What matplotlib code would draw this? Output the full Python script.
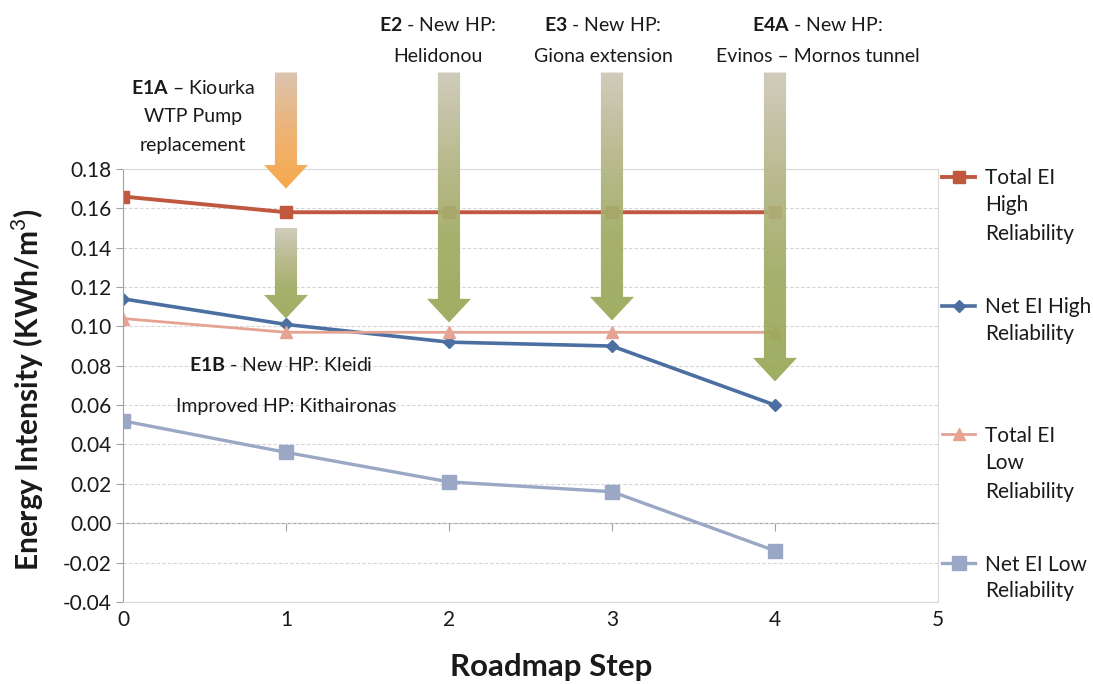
import numpy as np
import matplotlib
matplotlib.use('Agg')
import matplotlib.pyplot as plt
from matplotlib.colors import LinearSegmentedColormap
from matplotlib.patches import Polygon
from matplotlib.ticker import FormatStrFormatter, MultipleLocator

plt.rcParams['font.family'] = ['Lato', 'DejaVu Sans']
plt.rcParams['mathtext.fontset'] = 'custom'
plt.rcParams['mathtext.rm'] = 'Lato'
plt.rcParams['mathtext.bf'] = 'Lato:bold'
plt.rcParams['axes.unicode_minus'] = False

# data
steps = [0, 1, 2, 3, 4]
total_high = [0.166, 0.158, 0.158, 0.158, 0.158]
net_high = [0.114, 0.101, 0.092, 0.090, 0.060]
total_low = [0.104, 0.097, 0.097, 0.097, 0.097]
net_low = [0.052, 0.036, 0.021, 0.016, -0.014]

series_names = ['Total EI', 'Net EI High', 'Total EI', 'Net EI Low']
series_rest = ['High\nReliability', 'Reliability', 'Low\nReliability', 'Reliability']

# measure arrows: step, top value, tip value
arrow_step = [1, 1, 2, 3, 4]
arrow_top = [0.229, 0.150, 0.229, 0.229, 0.229]
arrow_tip = [0.170, 0.104, 0.102, 0.103, 0.072]
arrow_kind = ['orange', 'olive', 'olive', 'olive', 'olive']

TXT = '#1a1a1a'

fig = plt.figure(figsize=(10.93, 6.84), dpi=100)
ax = fig.add_axes([0.1125, 0.12, 0.7457, 0.633])

l1, = ax.plot(steps, total_high, color='#C0583F', lw=2.8, marker='s', ms=8.5, zorder=2)
l2, = ax.plot(steps, net_high, color='#4A6FA0', lw=2.6, marker='D', ms=6.5, zorder=2)
l3, = ax.plot(steps, total_low, color='#E4A393', lw=2.0, marker='^', ms=9, zorder=2)
l4, = ax.plot(steps, net_low, color='#9AA8C6', lw=2.4, marker='s', ms=10, zorder=2)

# gradient arrows
cmaps = {
    'olive': LinearSegmentedColormap.from_list('olive', ['#CDC8B8', '#B5B688', '#A0AB62', '#99A857']),
    'orange': LinearSegmentedColormap.from_list('orange', ['#D9C0AA', '#EDAE6C', '#F8A23E']),
}
sw, hw, hl = 0.068, 0.135, 0.012
grad = np.linspace(0, 1, 256).reshape(-1, 1)
for x, top, tip, kind in zip(arrow_step, arrow_top, arrow_tip, arrow_kind):
    head = tip + hl
    pts = [(x - sw, top), (x + sw, top), (x + sw, head), (x + hw, head),
           (x, tip), (x - hw, head), (x - sw, head)]
    poly = Polygon(pts, closed=True, transform=ax.transData, facecolor='none', edgecolor='none')
    im = ax.imshow(grad, cmap=cmaps[kind], extent=[x - hw, x + hw, tip, top],
                   aspect='auto', origin='upper', alpha=0.93, zorder=3, interpolation='bilinear')
    im.set_clip_path(poly)
    im.set_clip_box(fig.bbox)

ax.set_xlim(0, 5)
ax.set_ylim(-0.04, 0.18)
ax.yaxis.set_major_locator(MultipleLocator(0.02))
ax.yaxis.set_major_formatter(FormatStrFormatter('%.2f'))
ax.set_xticks(range(0, 6))
ax.grid(axis='y', color='#d4d4d4', lw=0.8, ls=(0, (3, 2)), zorder=0)
ax.set_axisbelow(True)

for s in ['top', 'right', 'bottom']:
    ax.spines[s].set_color('#d9d9d9')
ax.spines['left'].set_color('#a0a0a0')
ax.tick_params(axis='x', length=0, labelsize=15, pad=6, labelcolor=TXT)
ax.tick_params(axis='y', length=5, color='#a0a0a0', labelsize=15, labelcolor=TXT)

# horizontal axis line crossing at zero, with its tick marks
zero_frac = (0 - ax.get_ylim()[0]) / (ax.get_ylim()[1] - ax.get_ylim()[0])
sec = ax.secondary_xaxis(zero_frac)
sec.set_xticks(range(0, 6))
sec.tick_params(direction='out', length=6, color='#a0a0a0', labelbottom=False)
sec.spines['bottom'].set_color('#a0a0a0')

ax.set_ylabel('Energy Intensity (KWh/m$^3$)', fontsize=21.5, fontweight='bold', color=TXT)
ax.yaxis.set_label_coords(-0.094, 0.49)
ax.set_xlabel('Roadmap Step', fontsize=22.5, fontweight='bold', color=TXT)
ax.xaxis.set_label_coords(0.526, -0.118)

# annotations
ann = dict(ha='center', va='center', fontsize=14, color=TXT, clip_on=False, zorder=6)
ax.text(0.43, 0.2067, '$\\mathbf{E1A}$ – Kiourka\nWTP Pump\nreplacement', linespacing=1.85, **ann)
ax.text(1.93, 0.2453, '$\\mathbf{E2}$ - New HP:\nHelidonou', linespacing=2.0, **ann)
ax.text(2.945, 0.2453, '$\\mathbf{E3}$ - New HP:\nGiona extension', linespacing=2.0, **ann)
ax.text(4.26, 0.2453, '$\\mathbf{E4A}$ - New HP:\nEvinos – Mornos tunnel', linespacing=2.0, **ann)
ax.text(0.97, 0.0804, '$\\mathbf{E1B}$ - New HP: Kleidi', **ann)
ax.text(1.0, 0.0592, 'Improved HP: Kithaironas', **ann)

# legend: first line of each label in the legend, rest of label below it
leg = ax.legend([l1, l2, l3, l4], series_names, loc='upper left',
                bbox_to_anchor=(0.862, 0.754), bbox_transform=fig.transFigure,
                frameon=False, fontsize=15, handlelength=1.6, handletextpad=0.45,
                labelspacing=5.22, borderpad=0, borderaxespad=0)
for t in leg.get_texts():
    t.set_color(TXT)
fig.canvas.draw()
for t, rest in zip(leg.get_texts(), series_rest):
    ax.annotate(rest, xy=(0, 0), xycoords=t, xytext=(0, -5), textcoords='offset points',
                ha='left', va='top', fontsize=15, color=TXT, linespacing=1.55,
                annotation_clip=False, zorder=10)

fig.savefig('out.png', dpi=100)
